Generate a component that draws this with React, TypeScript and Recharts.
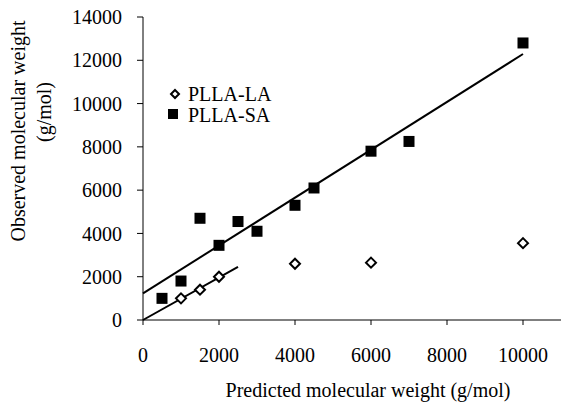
import React from 'react';
import {
  ScatterChart,
  Scatter,
  XAxis,
  YAxis,
  ReferenceLine,
  Legend,
  Label,
} from 'recharts';

const laPredicted = [1000, 1500, 2000, 4000, 6000, 10000];
const laObserved = [1000, 1400, 2000, 2600, 2650, 3550];
const saPredicted = [500, 1000, 1500, 2000, 2500, 3000, 4000, 4500, 6000, 7000, 10000];
const saObserved = [1000, 1800, 4700, 3450, 4550, 4100, 5300, 6100, 7800, 8250, 12800];
// trend line end points
const laTrend = [
  { x: 0, y: 0 },
  { x: 2500, y: 2460 },
];
const saTrend = [
  { x: 0, y: 1230 },
  { x: 10000, y: 12290 },
];
const xTicks = [0, 2000, 4000, 6000, 8000, 10000];
const yTicks = [0, 2000, 4000, 6000, 8000, 10000, 12000, 14000];
const seriesNames = ['PLLA-LA', 'PLLA-SA'];

const laData = laPredicted.map((x, i) => ({ x, y: laObserved[i] }));
const saData = saPredicted.map((x, i) => ({ x, y: saObserved[i] }));

const font = '"Liberation Serif", "Times New Roman", serif';

const Diamond = (props: any) => {
  const { cx, cy } = props;
  return (
    <path
      d={`M${cx},${cy - 5}L${cx + 5},${cy}L${cx},${cy + 5}L${cx - 5},${cy}Z`}
      fill="#fff"
      stroke="#000"
      strokeWidth={2}
    />
  );
};

const Square = (props: any) => {
  const { cx, cy } = props;
  return <rect x={cx - 5.5} y={cy - 5.5} width={11} height={11} fill="#000" />;
};

const LegendBox = () => (
  <svg width={140} height={52} style={{ display: 'block' }}>
    <path d="M15,10L19,14L15,18L11,14Z" fill="#fff" stroke="#000" strokeWidth={2} />
    <text x={28} y={21} fontFamily={font} fontSize={20} fill="#000">
      {seriesNames[0]}
    </text>
    <rect x={8} y={29} width={10} height={10} fill="#000" />
    <text x={28} y={42} fontFamily={font} fontSize={20} fill="#000">
      {seriesNames[1]}
    </text>
  </svg>
);

const XTitle = () => (
  <text x={368} y={397} textAnchor="middle" fontFamily={font} fontSize={20} fill="#000">
    Predicted molecular weight (g/mol)
  </text>
);

const YTitle = () => (
  <g fontFamily={font} fontSize={20} fill="#000">
    <text x={25} y={131} textAnchor="middle" transform="rotate(-90 25 131)">
      Observed molecular weight
    </text>
    <text x={51} y={112} textAnchor="middle" transform="rotate(-90 51 112)">
      (g/mol)
    </text>
  </g>
);

export default function App() {
  const tick = { fill: '#000', fontSize: 20, fontFamily: font };
  return (
    <div style={{ position: 'absolute', left: 0, top: 0, background: '#fff' }}>
      <ScatterChart width={561} height={404} margin={{ top: 17, right: 0, bottom: 0, left: 0 }}>
        <XAxis
          type="number"
          dataKey="x"
          domain={[0, 11000]}
          ticks={xTicks}
          tick={tick}
          tickSize={5}
          tickMargin={23}
          height={84}
          axisLine={{ stroke: '#000' }}
          tickLine={{ stroke: '#000' }}
          allowDataOverflow
        >
          <Label content={<XTitle />} />
        </XAxis>
        <YAxis
          type="number"
          dataKey="y"
          domain={[0, 14000]}
          ticks={yTicks}
          tick={tick}
          tickSize={6}
          tickMargin={15}
          width={143}
          axisLine={{ stroke: '#000' }}
          tickLine={{ stroke: '#000' }}
        >
          <Label content={<YTitle />} />
        </YAxis>
        <ReferenceLine segment={laTrend} stroke="#000" strokeWidth={2} />
        <ReferenceLine segment={saTrend} stroke="#000" strokeWidth={2} />
        <Scatter name={seriesNames[0]} data={laData} shape={<Diamond />} isAnimationActive={false} />
        <Scatter name={seriesNames[1]} data={saData} shape={<Square />} isAnimationActive={false} />
        <Legend
          layout="vertical"
          align="center"
          verticalAlign="middle"
          wrapperStyle={{ left: 160, top: 80, width: 140, height: 52 }}
          content={<LegendBox />}
        />
      </ScatterChart>
    </div>
  );
}
